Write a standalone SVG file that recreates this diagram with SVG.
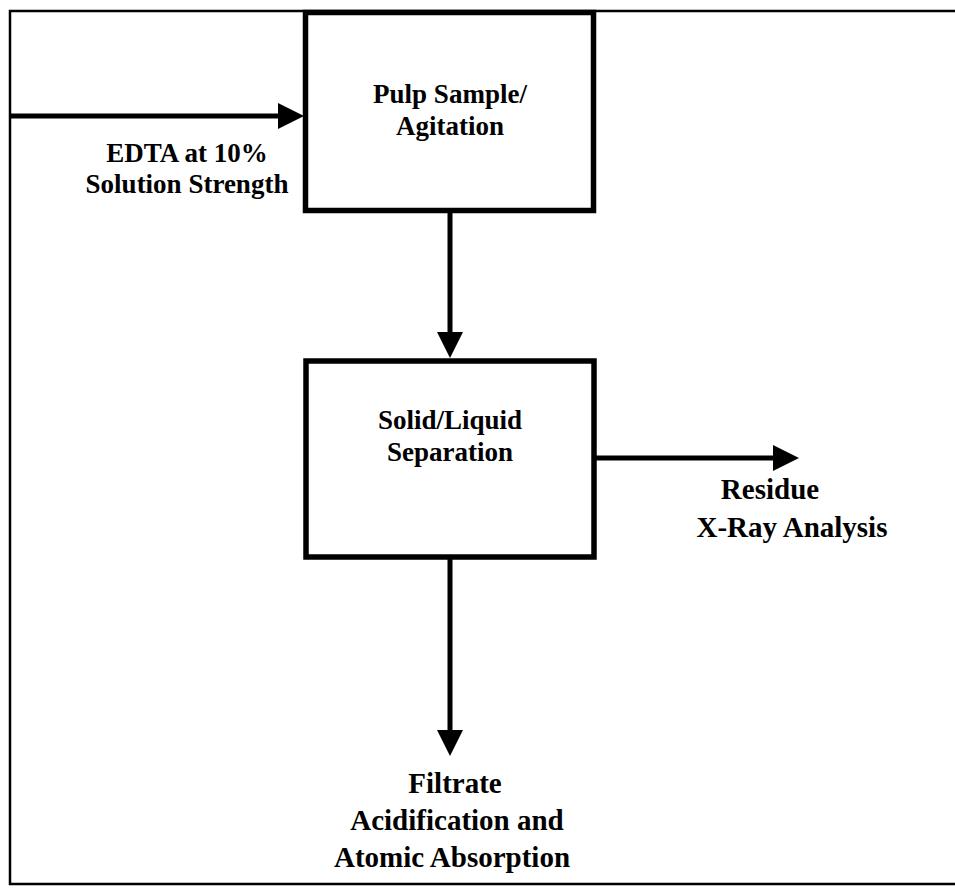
<svg xmlns="http://www.w3.org/2000/svg" width="955" height="891" viewBox="0 0 955 891">
<defs>
<style>
.frame{fill:none;stroke:#000;stroke-width:2.5}
.box{fill:#fff;stroke:#000;stroke-width:5.5}
.conn{fill:none;stroke:#000;stroke-width:5}
.head{fill:#000}
text{font-family:"Liberation Serif","Times New Roman",serif;font-weight:bold;fill:#000;text-anchor:middle}
.t27{font-size:27px}
.t29{font-size:29px}
</style>
</defs>
<rect width="955" height="891" fill="#fff"/>
<g id="frame">
<path class="frame" d="M955,11 L10,11 L10,884 L955,884"/>
</g>
<g id="connectors">
<line class="conn" x1="11" y1="116" x2="282" y2="116"/>
<polygon class="head" points="278,103 304,116 278,129"/>
<line class="conn" x1="450" y1="212" x2="450" y2="336"/>
<polygon class="head" points="437,332 463,332 450,358"/>
<line class="conn" x1="595" y1="458" x2="777" y2="458"/>
<polygon class="head" points="773,445 799,458 773,471"/>
<line class="conn" x1="450" y1="558" x2="450" y2="734"/>
<polygon class="head" points="437,730 463,730 450,756"/>
</g>
<g id="node-pulp">
<rect class="box" x="305.5" y="12.5" width="288" height="198"/>
<text class="t27" x="450" y="103">Pulp Sample/</text>
<text class="t27" x="450" y="135">Agitation</text>
</g>
<g id="node-separation">
<rect class="box" x="306" y="361" width="288" height="196"/>
<text class="t27" x="450" y="429">Solid/Liquid</text>
<text class="t27" x="450" y="461">Separation</text>
</g>
<g id="label-edta">
<text class="t27" x="187" y="162">EDTA at 10%</text>
<text class="t27" x="187" y="193">Solution Strength</text>
</g>
<g id="label-residue">
<text class="t29" x="770" y="499">Residue</text>
<text class="t29" x="792" y="537">X-Ray Analysis</text>
</g>
<g id="label-filtrate">
<text class="t29" x="455" y="793">Filtrate</text>
<text class="t29" x="457" y="830">Acidification and</text>
<text class="t29" x="452" y="867">Atomic Absorption</text>
</g>
</svg>
